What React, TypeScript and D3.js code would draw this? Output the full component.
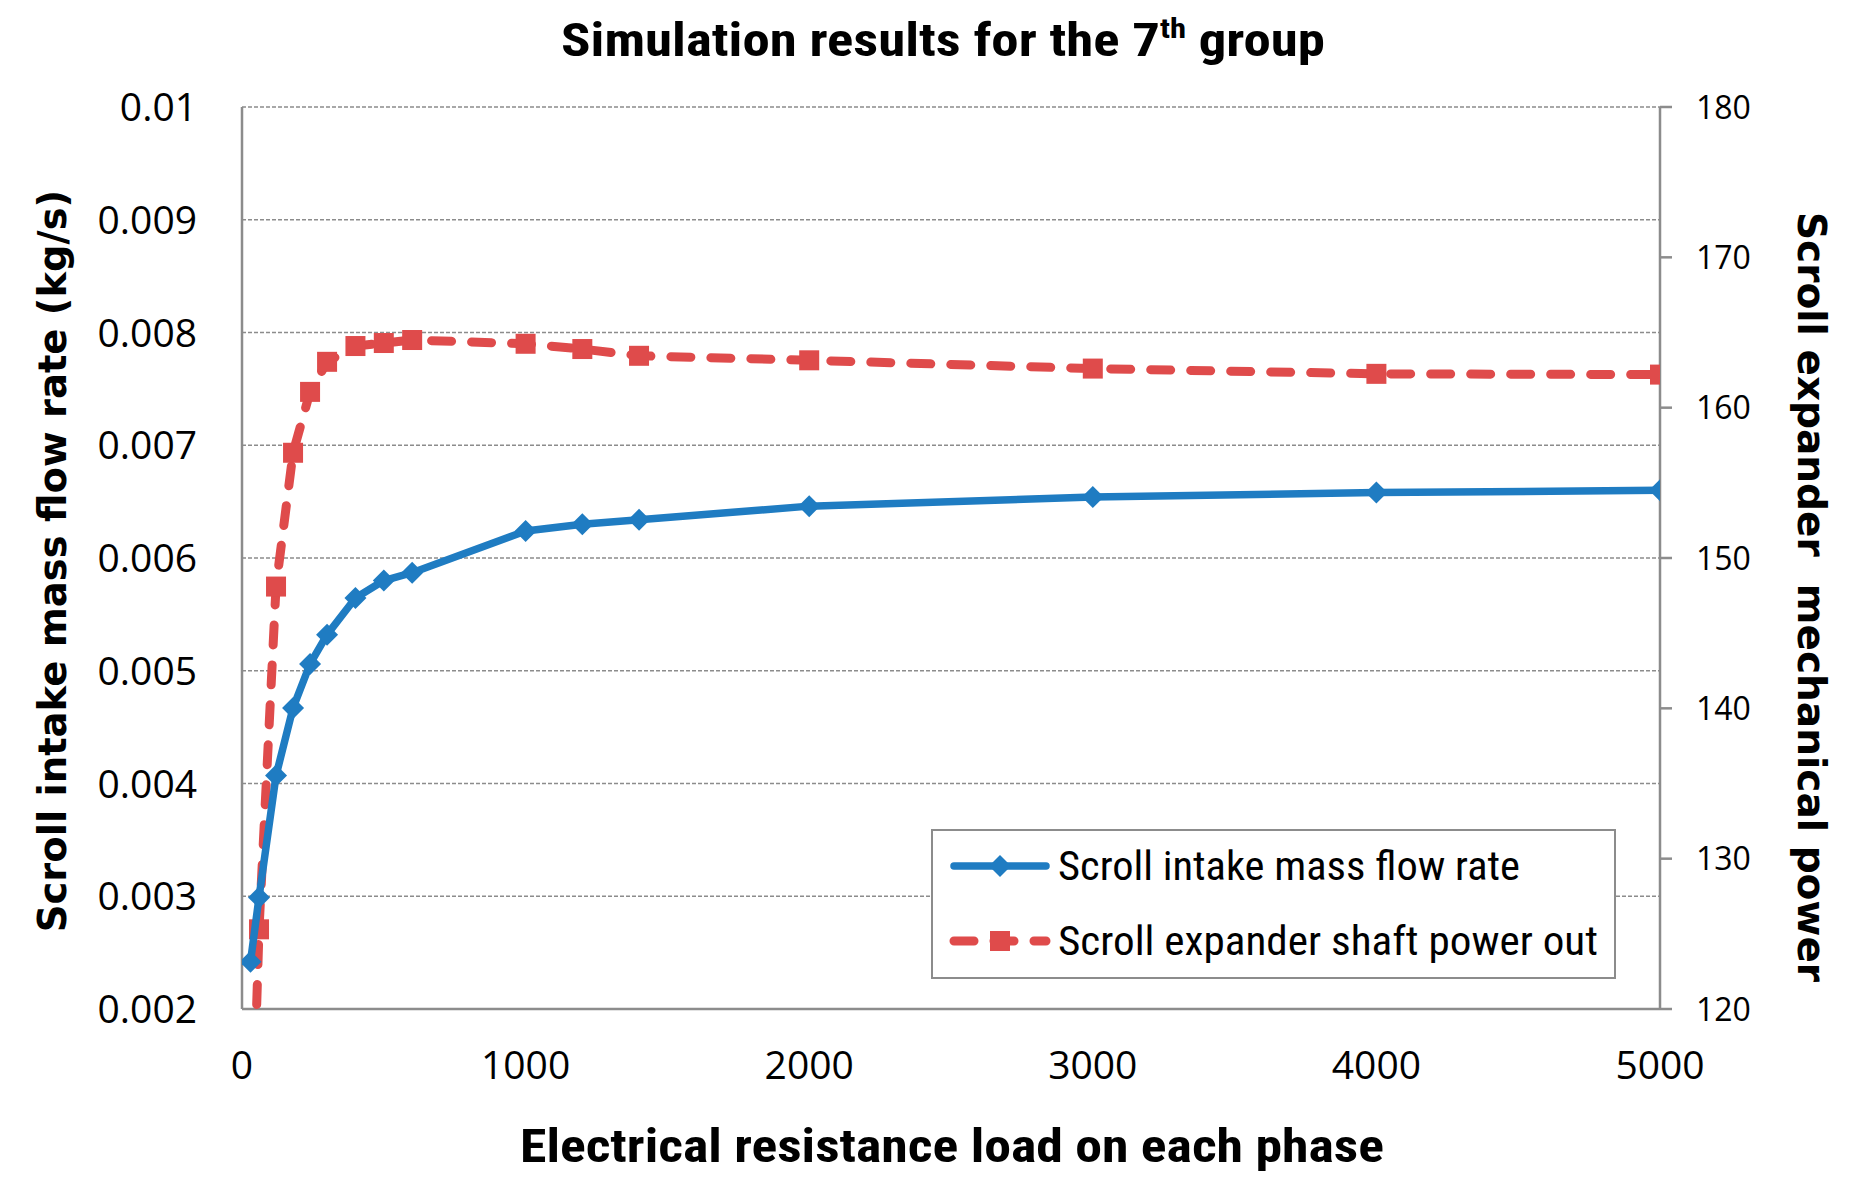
import React from "react";
import { scaleLinear, line as d3line } from "d3";

// load on each phase (ohm)
const loads = [30, 60, 120, 180, 240, 300, 400, 500, 600, 1000, 1200, 1400, 2000, 3000, 4000, 5000];
// scroll intake mass flow rate (kg/s)
const massFlow = [0.00242, 0.00299, 0.00407, 0.00467, 0.00506, 0.00532, 0.005645, 0.0058, 0.00587, 0.00624, 0.0063, 0.00634, 0.00646, 0.00654, 0.00658, 0.0066];
// scroll expander shaft power out (W)
const shaftPower = [107, 125.3, 148.1, 157.0, 161.05, 163.05, 164.1, 164.3, 164.5, 164.25, 163.9, 163.45, 163.15, 162.6, 162.25, 162.2];

const xTicks = [0, 1000, 2000, 3000, 4000, 5000];
const leftTicks = [0.002, 0.003, 0.004, 0.005, 0.006, 0.007, 0.008, 0.009, 0.01];
const rightTicks = [120, 130, 140, 150, 160, 170, 180];

const W = 1862;
const H = 1181;
const m = { left: 242, right: 1660, top: 107, bottom: 1009 };

const BLUE = "#1f7cc2";
const RED = "#df4b4b";
const GRID = "#8c8c8c";
const narrow = "'Liberation Sans Narrow', 'Arial Narrow', 'Roboto Condensed', sans-serif";
const tickFont = "'Open Sans', 'Noto Sans', sans-serif";
const wide = "'DejaVu Sans', Verdana, sans-serif";

export default function App() {
  const x = scaleLinear().domain([0, 5000]).range([m.left, m.right]);
  const yL = scaleLinear().domain([0.002, 0.01]).range([m.bottom, m.top]);
  const yR = scaleLinear().domain([120, 180]).range([m.bottom, m.top]);

  const blue = loads.map((l, i) => ({ x: x(l), y: yL(massFlow[i]) }));
  const red = loads.map((l, i) => ({ x: x(l), y: yR(shaftPower[i]) }));
  const path = d3line<{ x: number; y: number }>().x((d) => d.x).y((d) => d.y);

  const diamond = (cx: number, cy: number, r: number) =>
    `M${cx},${cy - r}L${cx + r},${cy}L${cx},${cy + r}L${cx - r},${cy}Z`;

  return (
    <svg width={W} height={H} style={{ position: "absolute", left: 0, top: 0, background: "#fff" }}>
      <defs>
        <clipPath id="plot">
          <rect x={m.left} y={m.top} width={m.right - m.left} height={m.bottom - m.top} />
        </clipPath>
      </defs>

      {/* title */}
      <text x={943} y={56} textAnchor="middle" fontFamily={narrow} fontWeight="bold" fontSize={47} textLength={764} lengthAdjust="spacingAndGlyphs">
        Simulation results for the 7
        <tspan fontSize={28} dy={-18}>th</tspan>
        <tspan dy={18}> group</tspan>
      </text>

      {/* grid lines */}
      {leftTicks.map((t) => (
        <line key={t} x1={m.left} x2={m.right} y1={yL(t)} y2={yL(t)} stroke={GRID} strokeWidth={1.5} strokeDasharray="4 2" />
      ))}

      {/* axes */}
      <line x1={m.left} x2={m.left} y1={m.top} y2={m.bottom} stroke={GRID} strokeWidth={2.5} />
      <line x1={m.left} x2={m.right} y1={m.bottom} y2={m.bottom} stroke={GRID} strokeWidth={2.5} />
      <line x1={m.right} x2={m.right} y1={m.top} y2={m.bottom} stroke={GRID} strokeWidth={2.5} />
      {rightTicks.map((t) => (
        <line key={t} x1={m.right} x2={m.right + 12} y1={yR(t)} y2={yR(t)} stroke={GRID} strokeWidth={2.5} />
      ))}

      {/* tick labels */}
      {leftTicks.map((t) => (
        <text key={t} x={197} y={yL(t)} dy="0.36em" textAnchor="end" fontFamily={tickFont} fontSize={39}>
          {+t.toFixed(3)}
        </text>
      ))}
      {rightTicks.map((t) => (
        <text key={t} x={1696} y={yR(t)} dy="0.36em" textAnchor="start" fontFamily={tickFont} fontSize={32}>
          {t}
        </text>
      ))}
      {xTicks.map((t) => (
        <text key={t} x={x(t)} y={1065} dy="0.36em" textAnchor="middle" fontFamily={tickFont} fontSize={39}>
          {t}
        </text>
      ))}

      {/* axis titles */}
      <text transform="translate(66,561) rotate(-90)" textAnchor="middle" fontFamily={wide} fontWeight="bold" fontSize={38.5}>
        Scroll intake mass flow rate (kg/s)
      </text>
      <text transform="translate(1798,597) rotate(90)" textAnchor="middle" fontFamily={wide} fontWeight="bold" fontSize={39} style={{ whiteSpace: "pre" }}>
        Scroll expander  mechanical power
      </text>
      <text x={952} y={1162} textAnchor="middle" fontFamily={narrow} fontWeight="bold" fontSize={47} textLength={864} lengthAdjust="spacingAndGlyphs">
        Electrical resistance load on each phase
      </text>

      {/* series */}
      <g clipPath="url(#plot)">
        <path d={path(red) ?? ""} fill="none" stroke={RED} strokeWidth={9} strokeDasharray="20 20" strokeLinecap="round" />
        {red.map((p, i) => (
          <rect key={i} x={p.x - 10} y={p.y - 10} width={20} height={20} fill={RED} />
        ))}
        <path d={path(blue) ?? ""} fill="none" stroke={BLUE} strokeWidth={7.5} strokeLinejoin="round" />
        {blue.map((p, i) => (
          <path key={i} d={diamond(p.x, p.y, 11)} fill={BLUE} />
        ))}
      </g>

      {/* legend */}
      <g>
        <rect x={932} y={830} width={683} height={148} fill="#fff" stroke={GRID} strokeWidth={2} />
        <line x1={954} x2={1046} y1={866} y2={866} stroke={BLUE} strokeWidth={7.5} strokeLinecap="round" />
        <path d={diamond(1000, 866, 11)} fill={BLUE} />
        <text x={1058} y={866} dy="0.35em" fontFamily={narrow} fontSize={40} textLength={462} lengthAdjust="spacingAndGlyphs">
          Scroll intake mass flow rate
        </text>
        <line x1={954} x2={1046} y1={941} y2={941} stroke={RED} strokeWidth={9} strokeDasharray="20 20" strokeLinecap="round" />
        <rect x={990} y={931} width={20} height={20} fill={RED} />
        <text x={1058} y={941} dy="0.35em" fontFamily={narrow} fontSize={40} textLength={540} lengthAdjust="spacingAndGlyphs">
          Scroll expander shaft power out
        </text>
      </g>
    </svg>
  );
}
